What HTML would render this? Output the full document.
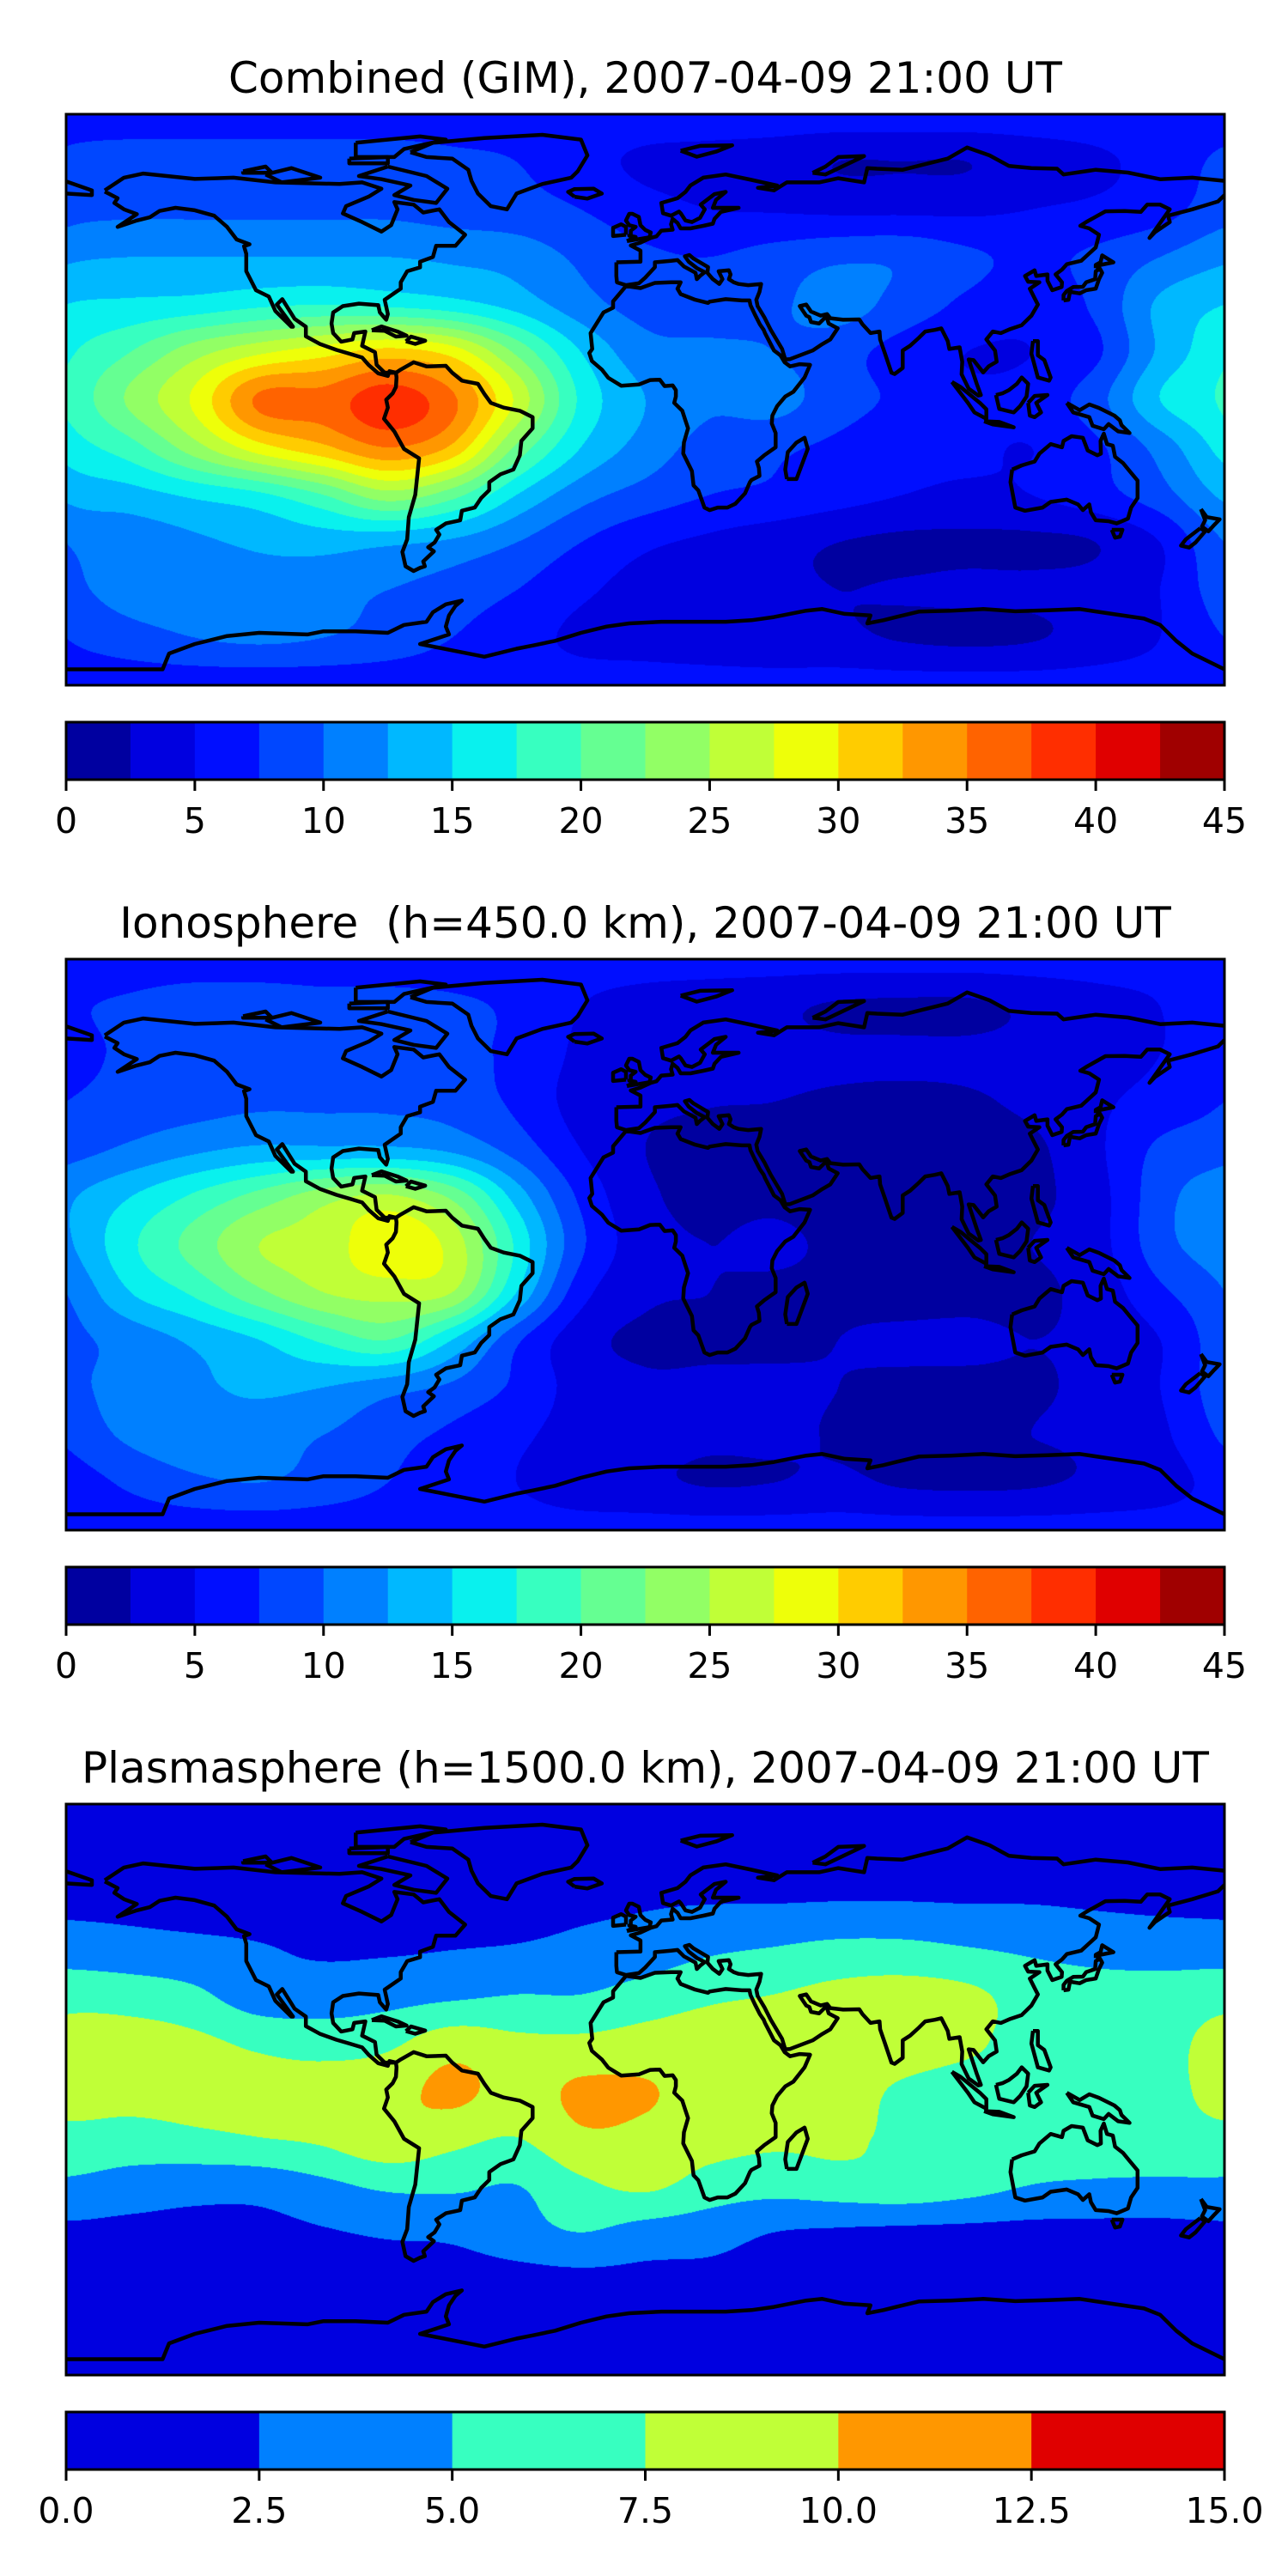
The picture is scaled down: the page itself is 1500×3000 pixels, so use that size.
<!DOCTYPE html>
<html><head><meta charset="utf-8">
<style>
html,body{margin:0;padding:0;background:#fff;}
body{width:1500px;height:3000px;position:relative;overflow:hidden;font-family:"DejaVu Sans","Liberation Sans",sans-serif;}
canvas{position:absolute;}
#overlay{position:absolute;left:0;top:0;}
</style></head>
<body>
<canvas id="c0" width="1349" height="665" style="left:77px;top:133px"></canvas>
<canvas id="c1" width="1349" height="665" style="left:77px;top:1117px"></canvas>
<canvas id="c2" width="1349" height="665" style="left:77px;top:2101px"></canvas>
<svg id="overlay" width="1500" height="3000" xmlns="http://www.w3.org/2000/svg"></svg>
<script>
// ---- grid definition ----
const gridLats = [90,75,60,45,30,15,0,-15,-30,-45,-60,-75,-90];
const gridLons = [-180,-160,-140,-120,-100,-80,-60,-40,-20,0,20,40,60,80,100,120,140,160,180];

// ---- Combined (GIM) TEC values ----
const gimValues = [
[6.5,6.5,6.5,6.5,6.5,6.5,6.5,6.5,6.5,6.5,6.5,6.5,6.5,6.5,6.5,6.5,6.5,6.5,6.5],
[8,8.5,8.5,8.5,8.5,8.5,8,7.5,6,4.5,4,3.5,2.5,2.5,2.5,3.5,4.5,6,8],
[9,9.5,9.5,9.5,9.5,9.5,9,8.5,7.5,6,5,4.8,4.5,4.5,4.5,5,5.5,6.5,9],
[12,12.5,12.5,12.5,12.5,12.5,12,11.5,9.5,8,7.5,8.5,9.5,9.5,8,7,8,10,12],
[15,15.5,16,17,17.5,17,16,14,11,9,8.5,9.5,11,9,7,6,8,13,15],
[17,20,24,27,29,31,29,22,15,11,10.5,10,8.5,6.5,5,5,7,13,17],
[18,23,28,35.5,36,39,35.5,27,17,12.5,10.5,11,8.5,7,5.5,6,9,15,18],
[16,19,24,29,32,35,32,22,15,11.5,9,8,7,6,5.5,5,7,11,16],
[13,14,15.5,17,20,24,21,15,11,9,7.5,7,6,5,4.5,5,6.5,9,13],
[10,11,12,13,13.5,13,12,10,7.5,5.5,4.5,3.5,2.5,2,2,2,2.5,5,10],
[9,11,11,11.5,11,10,9,7.5,5.5,4,3.5,3,2.5,2.7,3,3,3.5,5,9],
[7.5,9,10,10.5,10,9,7.5,6,4.5,4,3.5,3,3,2.3,2,2.3,3.5,5,7.5],
[6,6,6,6,6,6,6,6,6,6,6,6,6,6,6,6,6,6,6]
];
// ---- Ionosphere TEC values ----
const ionoValues = [
[6,6,6,6,6,6,6,6,6,6,6,6,6,6,6,6,6,6,6],
[7,8,9,9,8.5,8.5,8,7,5,4,3.5,3,2.2,2,2,3,4,5,7],
[6.5,8,8.5,8.5,8.5,8.5,8,7,4.5,3.8,3.5,3.2,3,3,3,3.2,3.8,5,6.5],
[7.5,8.5,9,9.5,9.5,9.5,9,7,4,3,2.6,2.5,2.2,2,2.2,3,4.5,6,7.5],
[9,10.5,12,13,13,13,12,9,5,2.5,2,2,2,1.8,1.5,2,4.5,8,9],
[12,15,18,21,24,25.5,22,14,7,3,2,2,1.5,1.5,1.8,2,4,9,12],
[12,17,21,25,26,29.5,26.5,17,8,3.5,2.5,3,2,2,2,2.5,4,9,12],
[10,15,18,22,25,26,25,15,6,3,2.5,2,2,1.5,1.8,2,3.5,7,10],
[9,11,13,15,18,20,15,8,3.5,2,2,2,2.5,3,3,2.5,3,5,9],
[9,11,12,13,12.5,11,9.5,7,4,3,3,3,2.5,2,2,2.3,3,5,9],
[8,10.5,11.5,11,10,8.5,7,5.5,4,3.5,3,3,2.3,2,2.2,2.5,3,4.5,8],
[6,8,9.5,10,9,7.5,6,5,3.5,3,2.3,2.5,3,2.2,2,2.2,3,4,6],
[6,6,6,6,6,6,6,6,6,6,6,6,6,6,6,6,6,6,6]
];
// ---- Plasmasphere TEC values ----
const plasmaValues = [
[0.5,0.5,0.5,0.5,0.5,0.5,0.5,0.5,0.5,0.5,0.5,0.5,0.5,0.5,0.5,0.5,0.5,0.5,0.5],
[1,1,1,1,1,1,1,1,1,1,1,1,1,1,1,1,1,1,1],
[1.8,1.8,1.6,1.5,1.5,1.5,1.6,1.8,2,2.2,2.3,2.3,2.4,2.4,2.3,2.3,2.1,1.9,1.8],
[3.7,3.3,3,2.6,2.2,2.2,2.4,2.6,3,3.5,4.5,5,5.5,5.5,5,4.5,4,3.8,3.7],
[6.5,6.3,5.5,3.5,3.5,4,4.5,5,5,6,7,7.5,8.2,8.5,8,6.5,6,6,6.5],
[8.5,8.5,8,7,6.5,7,8.8,8,8,8.5,8.8,9,9,8.8,8,6.5,6,6.5,8.5],
[8.5,8.5,8.5,8.3,8.5,9,10.6,9,10.4,10.2,9,9,8.5,7.2,6.5,6.5,6,6.5,8.5],
[6.8,6.5,7,7.5,8,9.5,8.3,7.5,9.6,9.4,8.5,8,8,7,6.5,6.5,6.5,6.5,6.8],
[4.6,4,3.5,3.5,4.5,5.5,5.5,5,7,8,6.5,6,6.5,6.8,6,5,4.7,4.6,4.6],
[2,1.8,1.7,1.8,2.3,2.8,3,4,5,4,3.5,2.5,2.2,2,1.9,1.8,1.8,1.8,2],
[1.3,1.3,1.3,1.3,1.3,1.3,1.4,1.6,1.8,1.8,1.8,1.5,1.3,1.3,1.3,1.3,1.3,1.3,1.3],
[0.8,0.8,0.8,0.8,0.8,0.8,0.8,0.8,0.8,0.8,0.8,0.8,0.8,0.8,0.8,0.8,0.8,0.8,0.8],
[0.5,0.5,0.5,0.5,0.5,0.5,0.5,0.5,0.5,0.5,0.5,0.5,0.5,0.5,0.5,0.5,0.5,0.5,0.5]
];

// ---- levels and tick labels ----
const tecLevels = [0,2.5,5,7.5,10,12.5,15,17.5,20,22.5,25,27.5,30,32.5,35,37.5,40,42.5,45];
const plasmaLevels = [0,2.5,5,7.5,10,12.5,15];
const tecTicks = [0,5,10,15,20,25,30,35,40,45];
const tecTickLabels = ["0","5","10","15","20","25","30","35","40","45"];
const plasmaTicks = [0,2.5,5,7.5,10,12.5,15];
const plasmaTickLabels = ["0.0","2.5","5.0","7.5","10.0","12.5","15.0"];
const panelTitles = ["Combined (GIM), 2007-04-09 21:00 UT","Ionosphere  (h=450.0 km), 2007-04-09 21:00 UT","Plasmasphere (h=1500.0 km), 2007-04-09 21:00 UT"];

// ---- coastlines (lon, lat) ----
const coastlines = [
[[-168,66],[-162,70],[-156,71.3],[-140,69.6],[-128,70],[-115,68.5],[-95,68],[-88,68.5],[-82,66.5],[-86,64],[-93,61],[-94,58.7],[-88,56],[-82,53],[-79,55],[-77,60],[-78,62.3],[-72,61.5],[-69,59],[-64,60],[-61,56],[-56,52],[-59,48.5],[-65,48.5],[-66,45],[-70,43.5],[-70,41.7],[-74,40.5],[-76,37],[-76,35],[-81,31.5],[-80,27],[-80.5,25.2],[-82.5,27.5],[-83,29.8],[-89,30.3],[-94,29.5],[-97,27.5],[-97.5,24],[-97,21],[-94.5,18.3],[-91,19],[-90.5,21],[-87,21.5],[-88,17],[-84,15],[-83.5,11],[-81,8.5],[-77.5,8.5],[-79.5,9],[-80,7.5],[-83,8.3],[-86,11],[-88,13.3],[-92,14.5],[-96,15.7],[-101,17.5],[-105.5,20],[-105.5,23],[-109,25.5],[-112.8,31.7],[-114.5,30],[-109.5,23],[-110,23],[-115,28],[-117,32.5],[-121,34.5],[-124,40.5],[-124,46],[-124.7,48.4],[-123,49],[-127,50.5],[-130,54.5],[-134,58],[-140,59.7],[-146,60.5],[-151,59.5],[-154,57.5],[-158,56.5],[-164,54.5],[-158,58.5],[-162,60],[-165,62],[-164,63.5],[-168,65.6]],
[[-77.5,8.5],[-76,9.5],[-72,11.8],[-68,10.5],[-62,10.7],[-60,8.5],[-57,6],[-52,5],[-50,1.8],[-48,-1],[-44,-2.5],[-39,-3.5],[-35,-5.5],[-35,-9],[-38.5,-13],[-39,-17.5],[-41,-22],[-45,-23.5],[-48.5,-26],[-48.5,-28.5],[-51,-31],[-53,-34],[-57,-35],[-57.5,-38],[-62,-39],[-65,-41],[-64,-42.5],[-65.5,-45],[-67.5,-46.5],[-65.7,-47.8],[-69,-51],[-68.5,-52.5],[-70,-53],[-72,-54],[-74.5,-52.5],[-75.5,-48],[-74,-44],[-73.5,-37],[-71.5,-30],[-70.3,-18.5],[-75,-15.5],[-78,-10],[-81.2,-6],[-80,-2.5],[-80.5,0],[-78.5,2],[-77.5,4],[-77.3,7],[-77.5,8.5]],
[[-73,78],[-66,81],[-50,82.5],[-32,83.5],[-20,82],[-18,77],[-21,72],[-23,70],[-32,68],[-40,65],[-43,60],[-48,61],[-52,65],[-54,69],[-55,72.5],[-60,76],[-68,76.5],[-73,78]],
[[-9,43.3],[-9,39],[-8.8,37],[-6,36.1],[-2,36.7],[0,38.5],[3,41.8],[3,43.3],[8,43.8],[10,44],[12,42],[15.6,40],[16,38],[17,39],[18.5,40.2],[16,41.5],[13.5,43.5],[12.3,45.2],[13.7,45.6],[15,44.5],[19.5,41.8],[19.3,40],[21,38],[23,36.5],[24,38],[22.8,40.5],[26,40.8],[26.5,39.5],[26,38],[27.5,37],[29,36.5],[32,36.1],[36,36.5],[35.5,34],[34.5,31.5],[34.9,29.5],[37,26],[39,22],[42.5,16],[43.5,12.7],[45,12.8],[52,15.5],[55,17.5],[57.5,19],[59.8,22.5],[57,24],[56.3,26.3],[54,24],[51.5,24.5],[51,26],[50,26.5],[48,29.5],[50,30],[51.5,27.8],[54.5,26.5],[56.5,27],[57.5,25.7],[61.5,25.2],[66.5,25.3],[67.5,23.8],[70,21],[72.8,21.5],[73,19],[74.5,14.5],[76.5,8.5],[77.5,8.1],[80,10],[80,15.5],[82.3,17],[85,19.5],[87,21.5],[90,22],[92,22.5],[94,18.5],[94.5,16],[97.7,16.5],[98.5,12],[98.3,8],[100.5,3.5],[103.5,1.3],[104.3,1.5],[103,5],[100.5,12.7],[102,12.5],[105,8.6],[106.7,10.5],[109.2,12],[108.7,15.5],[106,19],[108,21.5],[110.5,21],[113.5,22.3],[117,23.5],[120,26.5],[122,30],[121,32],[119.5,35],[122.5,37],[119,37.2],[118,39],[121,40.8],[121.5,39],[125,39.5],[125,37.5],[126.5,34.5],[129.4,35.5],[129.5,37],[127.5,39.5],[129.5,41],[131,42.7],[135.5,43.8],[140,48],[141,52],[138,54],[135.2,54.8],[137,56],[143,59.4],[149,59.5],[154,59.2],[156,61.5],[160,61.5],[163,60],[156.7,51],[158.5,52.9],[163,56],[162.5,58],[170,60],[178,62.5],[180,64.5]],
[[-180,65],[-172,64.5],[-172,66],[-180,68.8]],
[[180,69],[170,70],[160,69.5],[150,71.6],[140,72.5],[130,71],[128,72.8],[120,73],[113,73.7],[107,77],[100,79.5],[94,76],[86,74],[80,72.5],[72,72.8],[69,73],[68,68.5],[60,69.8],[54,68.5],[44,68.5],[40,66],[35,66.8],[41,67.5],[33,69.3],[25,71],[18,70],[14,67.5],[12.5,65.5],[10,63.5],[5,62],[5.5,58.8],[8,58],[10.5,59.3],[11,58.8],[12.5,56.5],[14.5,56],[17,57.3],[18.5,60],[17.2,61.5],[21.5,64.8],[25,65.5],[22,63],[21,60.5],[29,60.5],[23.5,59.2],[21.5,57],[21,55.5],[18,54.8],[14,54],[11,54],[10,55.7],[8.5,57],[8,55.3],[8.5,53.6],[5,53.3],[3.5,51.5],[1.7,51],[-1.5,49.5],[-4.5,48.6],[-1.5,47],[-1.5,43.5],[-9,43.3]],
[[-5.7,50],[1.3,51.2],[1.7,52.7],[0,53.5],[-1.5,55],[-2,57.6],[-4,58.6],[-5,58.6],[-6,56.5],[-5,55],[-3,54.5],[-4.5,53.3],[-4.5,52],[-5,51.7],[-3,51.3],[-5.7,50]],
[[-6,52],[-6,54.5],[-7.5,55.3],[-10,54.2],[-10,51.6],[-6,52]],
[[-22,64],[-24,65.5],[-22,66.4],[-16,66.5],[-13.5,65],[-18,63.4],[-22,64]],
[[-6,35.8],[-10,31],[-10,29],[-13,27.5],[-17,21],[-16.5,16],[-17.4,14.7],[-16.6,12.2],[-13.5,9.5],[-11.5,6.9],[-7.5,4.4],[-2,4.8],[1.5,6.2],[4.5,6.3],[6,4.3],[8.5,4.5],[9.5,3],[9.5,1],[9,-1],[11.5,-3.5],[12.3,-6],[13.3,-9],[12,-13.5],[11.8,-17],[14.5,-22.5],[15,-27],[16.5,-28.6],[18.4,-34],[20,-34.8],[22.5,-34],[25.5,-34],[28,-32.8],[31,-29.5],[32.5,-26],[33,-25.3],[35.5,-24],[35.3,-21.5],[34.7,-19.5],[37,-17.5],[40.5,-15],[40.5,-10.5],[39.3,-7.5],[39.5,-5],[41,-2],[43.5,1],[46,2.5],[49.5,7],[51.2,11],[48,11.2],[45,10.5],[43.3,11.8],[42,14],[40,15.5],[39,17.5],[37.2,21],[36.8,22],[35.6,23.8],[34,27],[32.7,29.8],[32.4,31.3],[30,31.3],[25,31.7],[20,30.9],[19.5,30.5],[15.5,31.5],[11,33.3],[10,35],[11,37],[8,37],[3,36.8],[-1.5,35.2],[-6,35.8]],
[[44,-25],[47,-25],[50.5,-15.5],[49.5,-12],[47,-13.5],[44.3,-16.5],[43.5,-22],[44,-25]],
[[114,-22],[113.5,-26],[115,-34],[118,-35],[123.5,-34],[126,-32.2],[131,-31.5],[134.5,-33],[136,-34.8],[138,-33],[138.5,-35.5],[140,-38],[144,-38.3],[146.5,-39],[150,-37.5],[151,-34],[153,-31],[153,-25.5],[150.5,-22.5],[148.5,-20],[146,-18],[145.3,-14.5],[143.5,-14],[142.5,-10.7],[141.5,-13],[141.6,-17],[140.5,-17.5],[137.5,-16],[136,-12],[132.5,-11.5],[130,-13],[129.5,-15],[126,-14],[122.5,-17],[121,-19.5],[117,-20.7],[114,-22]],
[[145,-41],[148.3,-41],[147.5,-43.2],[146,-43.5],[145,-41]],
[[172.7,-34.5],[174.5,-37],[178.5,-37.7],[176.8,-39.5],[175,-41.5],[173,-40],[174,-38],[172.7,-34.5]],
[[172.5,-40.5],[174,-41.5],[171,-45],[169,-46.6],[166.5,-46],[168,-44],[172.5,-40.5]],
[[130,31.3],[131.5,31.5],[132,34],[135,33.5],[137,34.5],[140,35],[141,38],[142,40],[141.3,41.3],[140,40.5],[139.8,38],[137,37],[136,35.6],[133,35.5],[131,34.3],[130,33],[130,31.3]],
[[140,41.5],[141.5,42.5],[145.5,43.3],[142,45.5],[141.5,43.3],[140,42.5],[140,41.5]],
[[95.3,5.6],[98,4],[104,-1],[106,-3],[106,-6],[102.3,-4],[100.3,-1],[95.3,5.6]],
[[109,1.5],[110,-2.9],[114.5,-4],[116.5,-2],[118.5,1],[119,5],[117,7],[115.5,5],[113,3],[111,2],[109,1.5]],
[[105.3,-6.8],[110,-7],[114.5,-8.7],[108,-7.8],[105.3,-6.8]],
[[131,-1],[135,-3.3],[138,-1.5],[141,-2.6],[145.8,-5],[147.5,-6.5],[148,-8],[150.5,-10.5],[147,-10],[144,-7.7],[142.5,-9.3],[139,-8.2],[138,-5.5],[133,-4],[132,-2.5],[131,-1]],
[[120.5,18.5],[122,18.5],[122,14],[124,12.5],[126,7],[125.5,6],[122,7],[120,14.5],[120.5,18.5]],
[[119,-1],[121,1.2],[125,1.5],[121.5,-1],[123,-4],[121,-5.5],[119.5,-5],[119,-1]],
[[-85,21.9],[-82,23.1],[-77,21.5],[-74.2,20.2],[-77.5,19.9],[-81,21.7],[-85,21.9]],
[[-74.4,18.4],[-72.8,19.9],[-68.4,18.6],[-71.5,17.6],[-74.4,18.4]],
[[52,71.5],[56,73.5],[60,76.5],[68,76.8],[56,71],[52,71.5]],
[[11,78.5],[17,80],[27,80.2],[22,78.2],[16,76.6],[11,78.5]],
[[-80,73.5],[-68,70.5],[-61.5,66.5],[-65,62],[-72,63],[-78,64.5],[-73,67.5],[-82,69.5],[-89,70.5],[-80,73.5]],
[[-90,81],[-70,83],[-62,82],[-75,79],[-78,76.5],[-90,76.5],[-90,81]],
[[-118,71],[-110,73],[-101,70],[-113,68.5],[-118,71]],
[[-125,72],[-118,73.5],[-116,71.5],[-125,71.5],[-125,72]],
[[-92,76],[-80,76.5],[-80,74.5],[-92,74.5],[-92,76]],
[[-180,-85],[-165,-85],[-150,-85],[-148,-80],[-140,-77],[-130,-74.5],[-120,-73.5],[-105,-74],[-100,-73],[-90,-73],[-80,-73.5],[-75,-71],[-68,-70],[-66,-67],[-62,-64.5],[-57,-63.3],[-59,-65],[-61,-68],[-62,-71.5],[-61,-74],[-70,-77],[-60,-79],[-50,-81],[-40,-78.5],[-35,-77.5],[-28,-76],[-20,-73.5],[-12,-71.5],[-5,-70.5],[5,-70],[15,-70],[25,-70],[33,-69.5],[40,-68.5],[50,-66.5],[55,-66],[62,-67.5],[70,-68],[69,-70.5],[74,-69.5],[78,-68.5],[85,-66.8],[95,-66.5],[105,-66],[115,-66.7],[125,-66.4],[135,-66],[145,-67.5],[155,-69],[160,-71],[165,-76],[170,-80],[180,-85]]
];

// ---- layout ----
const AX_L = 77, AX_W = 1349, AX_H = 665;
const panelTops = [133, 1117, 2101];
const CB_OFF = 708, CB_H = 67;

function jet(t){
  function seg(pts){
    for(let i=0;i<pts.length-1;i++){
      if(t<=pts[i+1][0]){const a=pts[i],b=pts[i+1];return a[1]+(b[1]-a[1])*(t-a[0])/(b[0]-a[0]);}
    }
    return pts[pts.length-1][1];
  }
  const r=seg([[0,0],[0.35,0],[0.66,1],[0.89,1],[1,0.5]]);
  const g=seg([[0,0],[0.125,0],[0.375,1],[0.64,1],[0.91,0],[1,0]]);
  const b=seg([[0,0.5],[0.11,1],[0.34,1],[0.65,0],[1,0]]);
  return [Math.round(r*255),Math.round(g*255),Math.round(b*255)];
}
function levelColors(levels){
  const n=levels.length-1, out=[];
  for(let i=0;i<n;i++) out.push(jet((i+0.5)/n));
  return out;
}
function cr(p0,p1,p2,p3,t){
  return 0.5*((2*p1)+(-p0+p2)*t+(2*p0-5*p1+4*p2-p3)*t*t+(-p0+3*p1-3*p2+p3)*t*t*t);
}
function sample(grid, lon, lat){
  const nc = gridLons.length-1;
  const gx=(lon-gridLons[0])/(gridLons[1]-gridLons[0]);
  const gy=(gridLats[0]-lat)/(gridLats[0]-gridLats[1]);
  const i=Math.floor(gx), j=Math.floor(gy), fx=gx-i, fy=gy-j;
  const rows=[];
  for(let dj=-1;dj<=2;dj++){
    const jj=Math.min(gridLats.length-1,Math.max(0,j+dj));
    const r=grid[jj];
    const c=k=>r[((i+k)%nc+nc)%nc];
    rows.push(cr(c(-1),c(0),c(1),c(2),fx));
  }
  return cr(rows[0],rows[1],rows[2],rows[3],fy);
}
function drawField(canvasId, grid, levels){
  const cv=document.getElementById(canvasId), ctx=cv.getContext('2d');
  const img=ctx.createImageData(AX_W,AX_H), d=img.data;
  const cols=levelColors(levels), n=levels.length-1;
  const lo=levels[0];
  for(let y=0;y<AX_H;y++){
    const lat=90-(y+0.5)/AX_H*180;
    for(let x=0;x<AX_W;x++){
      const lon=-180+(x+0.5)/AX_W*360;
      const v=sample(grid,lon,lat);
      let k=0;
      while(k<n-1 && v>=levels[k+1]) k++;
      if(v<lo) k=0;
      const c=cols[k], p=(y*AX_W+x)*4;
      d[p]=c[0];d[p+1]=c[1];d[p+2]=c[2];d[p+3]=255;
    }
  }
  ctx.putImageData(img,0,0);
}
const NS='http://www.w3.org/2000/svg';
const svg=document.getElementById('overlay');
function mk(tag, attrs, parent){
  const e=document.createElementNS(NS,tag);
  for(const k in attrs) e.setAttribute(k,attrs[k]);
  (parent||svg).appendChild(e);
  return e;
}
const xLon = (lon)=>AX_L+(lon+180)/360*AX_W;
const yLat = (top,lat)=>top+(90-lat)/180*AX_H;

const panelGrids=[gimValues, ionoValues, plasmaValues];
const panelLevels=[tecLevels, tecLevels, plasmaLevels];
const panelTicks=[tecTicks, tecTicks, plasmaTicks];
const panelTickLabels=[tecTickLabels, tecTickLabels, plasmaTickLabels];
const panelNames=['combined','ionosphere','plasmasphere'];

for(let p=0;p<3;p++){
  drawField('c'+p, panelGrids[p], panelLevels[p]);
  const top=panelTops[p];
  const g=mk('g',{});
  
  
  const title=mk('text',{x:AX_L+AX_W/2,y:top-25,'text-anchor':'middle','font-size':'50','font-family':'DejaVu Sans, Liberation Sans, sans-serif',fill:'#000','xml:space':'preserve'},g);
  title.style.whiteSpace='pre';
  title.textContent=panelTitles[p];
  
  
  const cg=mk('g',{fill:'none',stroke:'#000','stroke-width':'4.5','stroke-linejoin':'round'},g);
  
  
  for(const line of coastlines){
    const pts=line.map(q=>xLon(q[0]).toFixed(1)+','+yLat(top,q[1]).toFixed(1)).join(' ');
    const pl=mk('polyline',{points:pts},cg);
    
    
  }
  const fr=mk('rect',{x:AX_L,y:top,width:AX_W,height:AX_H,fill:'none',stroke:'#000','stroke-width':'3'},g);
  
  
  const lv=panelLevels[p], cols=levelColors(lv), n=lv.length-1;
  const cbTop=top+CB_OFF;
  const cbx=v=>AX_L+(v-lv[0])/(lv[n]-lv[0])*AX_W;
  const cbg=mk('g',{},g);
  
  
  for(let i=0;i<n;i++){
    const r=mk('rect',{x:cbx(lv[i]),y:cbTop,width:cbx(lv[i+1])-cbx(lv[i])+0.5,height:CB_H,fill:'rgb('+cols[i].join(',')+')'},cbg);
    
    
  }
  const cbf=mk('rect',{x:AX_L,y:cbTop,width:AX_W,height:CB_H,fill:'none',stroke:'#000','stroke-width':'3'},cbg);
  
  
  const tk=panelTicks[p], tl=panelTickLabels[p];
  for(let i=0;i<tk.length;i++){
    const x=cbx(tk[i]);
    const ln=mk('line',{x1:x,x2:x,y1:cbTop+CB_H,y2:cbTop+CB_H+13,stroke:'#000','stroke-width':'3'},cbg);
    
    
    const t=mk('text',{x:x,y:cbTop+CB_H+62,'text-anchor':'middle','font-size':'41','font-family':'DejaVu Sans, Liberation Sans, sans-serif',fill:'#000'},cbg);
    t.textContent=tl[i];
    
    
  }
}
</script>
</body></html>
